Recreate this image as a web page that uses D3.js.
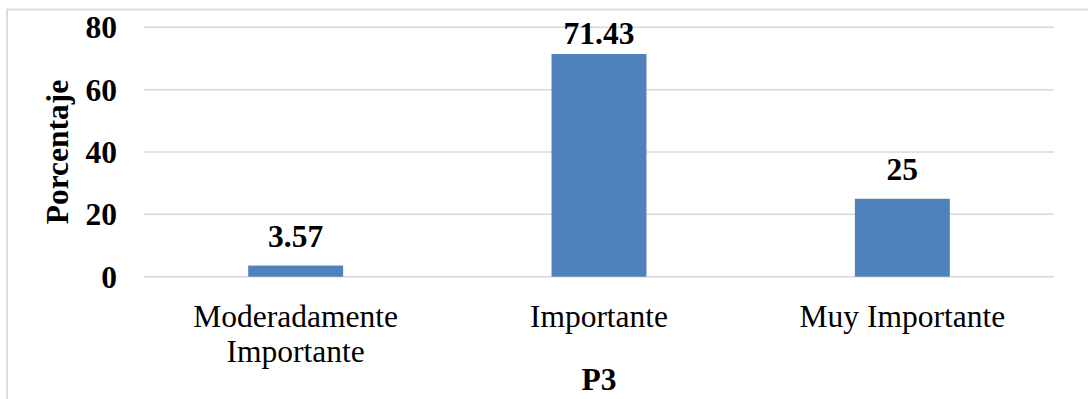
<!DOCTYPE html>
<html>
<head>
<meta charset="utf-8">
<script src="https://cdn.jsdelivr.net/npm/d3@7"></script>
<style>
  html, body { margin: 0; padding: 0; background: #fff; }
  svg { display: block; }
  text { font-family: "Liberation Serif", "Times New Roman", serif; fill: #000; }
</style>
</head>
<body>
<svg id="chart" width="1088" height="399"></svg>
<script>
// Responses to P3, in percent
const categories = [["Moderadamente", "Importante"], ["Importante"], ["Muy Importante"]];
const values = [3.57, 71.43, 25];
const valueLabels = ["3.57", "71.43", "25"];
const yTicks = [0, 20, 40, 60, 80];

const svg = d3.select("#chart");
const W = 1088, H = 399;
const plot = { left: 144, right: 1054, top: 27.3, bottom: 276.7 };
const FONT = '"Liberation Serif", "Times New Roman", serif';

// chart area frame
svg.append("rect")
  .attr("x", 7).attr("y", 9.5)
  .attr("width", W + 10).attr("height", H + 10)
  .attr("fill", "#fff")
  .attr("stroke", "#d9d9d9").attr("stroke-width", 1.8);

const x = d3.scaleBand()
  .domain(d3.range(values.length))
  .range([plot.left, plot.right])
  .paddingInner(0.687)
  .paddingOuter(0.3435);

const y = d3.scaleLinear().domain([0, 80]).range([plot.bottom, plot.top]);

// horizontal gridlines
svg.append("g")
  .selectAll("line")
  .data(yTicks)
  .join("line")
  .attr("x1", plot.left).attr("x2", plot.right)
  .attr("y1", d => y(d)).attr("y2", d => y(d))
  .attr("stroke", "#d9d9d9").attr("stroke-width", 1.5);

// y axis labels
const yAxis = d3.axisLeft(y).tickValues(yTicks).tickSize(0).tickPadding(0);
const gy = svg.append("g")
  .attr("transform", `translate(117,0)`)
  .call(yAxis);
gy.attr("font-family", null).attr("font-size", null);
gy.select(".domain").remove();
gy.selectAll("text")
  .style("font-family", FONT)
  .attr("font-size", 31.5)
  .attr("font-weight", "bold")
  .attr("fill", "#000")
  .attr("dy", "0.33em");

// bars
svg.append("g")
  .selectAll("rect")
  .data(values)
  .join("rect")
  .attr("x", (d, i) => x(i))
  .attr("width", x.bandwidth())
  .attr("y", d => y(d))
  .attr("height", d => y(0) - y(d))
  .attr("fill", "#4f81bd");

// value labels above bars
svg.append("g")
  .selectAll("text")
  .data(values)
  .join("text")
  .attr("x", (d, i) => x(i) + x.bandwidth() / 2)
  .attr("y", d => Math.max(y(d) - 18.5, 44))
  .attr("text-anchor", "middle")
  .attr("font-size", 31.5)
  .attr("font-weight", "bold")
  .text((d, i) => valueLabels[i]);

// category labels
const cat = svg.append("g")
  .selectAll("text")
  .data(categories)
  .join("text")
  .attr("text-anchor", "middle")
  .attr("font-size", 31.5)
  .attr("x", (d, i) => x(i) + x.bandwidth() / 2)
  .attr("y", 326.5);
cat.selectAll("tspan")
  .data(d => d)
  .join("tspan")
  .attr("x", function () { return d3.select(this.parentNode).attr("x"); })
  .attr("dy", (d, i) => i === 0 ? 0 : 35)
  .text(d => d);

// axis titles
svg.append("text")
  .attr("transform", `translate(68,${(plot.top + plot.bottom) / 2}) rotate(-90)`)
  .attr("text-anchor", "middle")
  .attr("font-size", 31.5)
  .attr("font-weight", "bold")
  .text("Porcentaje");

svg.append("text")
  .attr("x", (plot.left + plot.right) / 2)
  .attr("y", 390)
  .attr("text-anchor", "middle")
  .attr("font-size", 31.5)
  .attr("font-weight", "bold")
  .text("P3");
</script>
</body>
</html>
